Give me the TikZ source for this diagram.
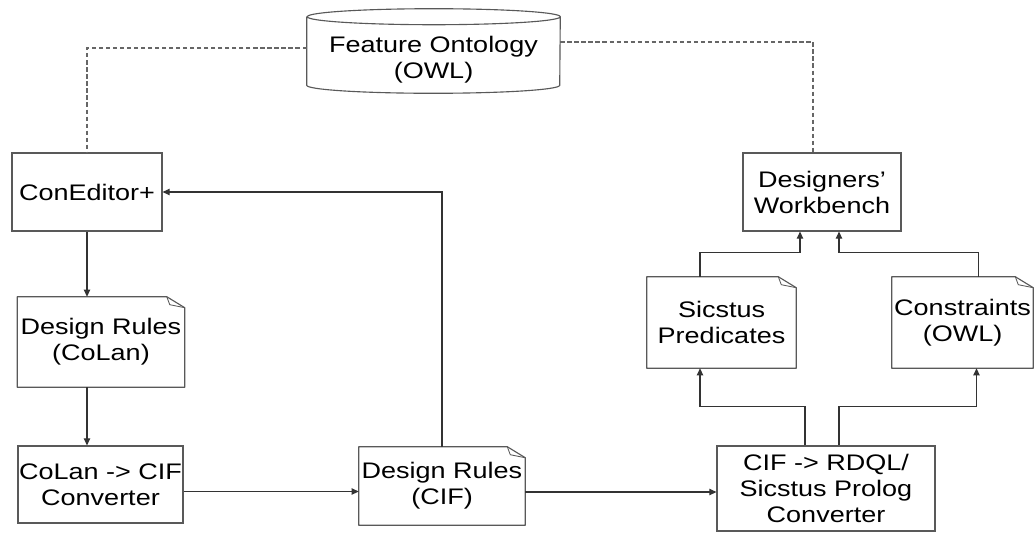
\documentclass[tikz,border=0pt]{standalone}
\usepackage{fontspec}
\setmainfont{Liberation Sans}[FakeStretch=1.2]
\usetikzlibrary{arrows.meta,positioning,calc}
\newcommand{\unitpx}{0.025cm}
\tikzset{
  >={Triangle[length=5pt,width=4.5pt]},
  every node/.append style={font=\fontsize{16}{18.5}\selectfont},
}
\tikzset{
  box/.style={draw=black!65, line width=0.8pt, align=center, inner sep=0pt},
  doc/.style={align=center, inner sep=0pt},
  arrow/.style={->, draw=black!80, line width=0.8pt},
  link/.style={draw=black!60, line width=0.8pt, dash pattern=on 3pt off 2pt},
}
% outline of a note with a folded corner
\newcommand{\docoutline}[1]{%
  \draw[black!65, line width=0.8pt, line join=round]
    (#1.north west) -- ([xshift=-18*\unitpx]#1.north east)
    -- ([yshift=-11*\unitpx]#1.north east) -- (#1.south east)
    -- (#1.south west) -- cycle;
  \draw[black!65, line width=0.6pt]
    ([xshift=-18*\unitpx]#1.north east) -- ([xshift=-15*\unitpx,yshift=-8*\unitpx]#1.north east)
    -- ([yshift=-11*\unitpx]#1.north east);
}

\begin{document}
\begin{tikzpicture}[x=\unitpx, y=-\unitpx]
\useasboundingbox[fill=white] (0,0) rectangle (1036,533);

% --- Ontology (cylinder, text sits a little low) ---
\node[inner sep=0pt, align=center, minimum width=253*\unitpx, minimum height=84*\unitpx]
  (onto) at (433.5,60) {Feature Ontology\\(OWL)};
\draw[black!65, line width=0.8pt]
  ([yshift=1*\unitpx]onto.north west) -- ([yshift=17*\unitpx]onto.south west)
  arc[start angle=180, end angle=360, x radius=126.5*\unitpx, y radius=8*\unitpx]
  -- ([yshift=1*\unitpx]onto.north east)
  arc[start angle=0, end angle=360, x radius=126.5*\unitpx, y radius=8*\unitpx];

% --- Tools ---
\node[box, minimum width=150*\unitpx, minimum height=78*\unitpx] (coned) at (87,192) {ConEditor+};
\node[box, minimum width=158*\unitpx, minimum height=78*\unitpx] (wb) at (822,192) {Designers'\\Workbench};
\node[box, minimum width=165*\unitpx, minimum height=77*\unitpx] (conv1) at (100.5,484.5) {CoLan -> CIF\\Converter};
\node[box, minimum width=218*\unitpx, minimum height=85*\unitpx] (conv2) at (826,488.5) {CIF -> RDQL/\\Sicstus Prolog\\Converter};

% --- Documents ---
\node[doc, minimum width=167*\unitpx, minimum height=90*\unitpx] (rulcolan) at (101,342) {Design Rules\\(CoLan)};
\node[doc, minimum width=166*\unitpx, minimum height=78*\unitpx] (rulcif) at (442,486) {Design Rules\\(CIF)};
\node[doc, minimum width=149*\unitpx, minimum height=91*\unitpx] (sicstus) at (721.5,322.5) {Sicstus\\Predicates};
\node[doc, minimum width=141*\unitpx, minimum height=91*\unitpx] (constr) at (962.5,322.5) {Constraints\\(OWL)};
\docoutline{rulcolan}
\docoutline{rulcif}
\docoutline{sicstus}
\docoutline{constr}

% --- Links to the ontology ---
\draw[link] ([yshift=12*\unitpx]onto.west) -| (coned.north);
\draw[link] ([yshift=18*\unitpx]onto.east) -| ([xshift=-9*\unitpx]wb.north);

% --- Rule flow ---
\draw[arrow] (coned.south) -- (coned.south |- rulcolan.north);
\draw[arrow] (coned.south |- rulcolan.south) -- (coned.south |- conv1.north);
\draw[arrow] ([yshift=-7*\unitpx]conv1.east) -- ([yshift=-7*\unitpx]conv1.east -| rulcif.west);
\draw[arrow] ([yshift=-6*\unitpx]rulcif.east) -- ([yshift=-6*\unitpx]rulcif.east -| conv2.west);
\draw[arrow] (rulcif.north) |- (coned.east);

% --- Outputs to the workbench ---
\draw[arrow] ([xshift=-21*\unitpx]conv2.north) -- ++(0,-39) -| ([xshift=-21.5*\unitpx]sicstus.south);
\draw[arrow] ([xshift=13*\unitpx]conv2.north) -- ++(0,-39) -| ([xshift=14*\unitpx]constr.south);
\draw[arrow] ([xshift=-21.5*\unitpx]sicstus.north) -- ++(0,-24) -| ([xshift=-22*\unitpx]wb.south);
\draw[arrow] ([xshift=16*\unitpx]constr.north) -- ++(0,-24) -| ([xshift=17*\unitpx]wb.south);

\end{tikzpicture}
\end{document}
